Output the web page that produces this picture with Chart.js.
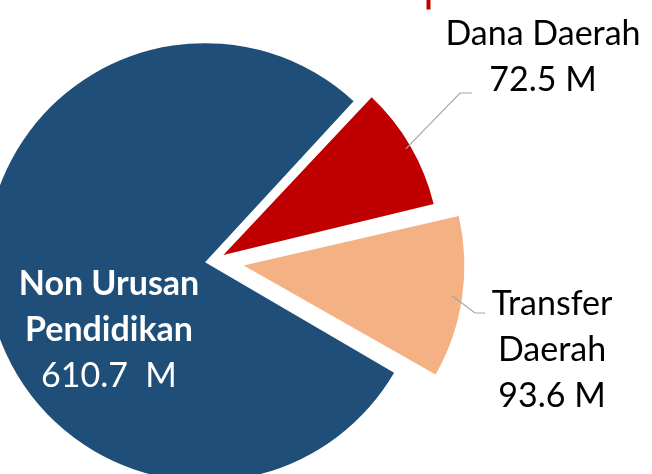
<!DOCTYPE html>
<html>
<head>
<meta charset="utf-8">
<script src="https://cdn.jsdelivr.net/npm/chart.js@4"></script>
<style>
  html, body { margin: 0; padding: 0; background: #fff; overflow: hidden; width: 652px; height: 474px; }
  #wrap { position: absolute; left: 0; top: 0; width: 652px; height: 522px; }
</style>
</head>
<body>
<div id="wrap"><canvas id="pie"></canvas></div>
<script>
const categories = ['Non Urusan Pendidikan', 'Dana Daerah', 'Transfer Daerah']
const values = [610.7, 72.5, 93.6]
const labelLines = [['Non Urusan', 'Pendidikan'], ['Dana Daerah'], ['Transfer', 'Daerah']]
const valueLabels = ['610.7  M', '72.5 M', '93.6 M']
const colors = ['#1F4E79', '#C00000', '#F4B183']

// where each label block sits (center x, first baseline) and its style
const labelPos = [
  { x: 109, y: 295, color: '#fff', boldName: true, line: false },
  { x: 543, y: 45, color: '#000', boldName: false, line: [[472, 93], [460, 93]] },
  { x: 552, y: 315, color: '#000', boldName: false, line: [[485, 313], [475, 313]] }
]

const FONT = 'Lato, "Open Sans", sans-serif'
const LINE_H = 46

const pieLabels = {
  id: 'pieLabels',
  afterDatasetsDraw(chart) {
    const ctx = chart.ctx
    const meta = chart.getDatasetMeta(0)
    ctx.save()

    // small red mark at the top edge
    ctx.fillStyle = '#C00000'
    ctx.fillRect(426.5, 0, 4, 9.5)

    meta.data.forEach((arc, i) => {
      const p = labelPos[i]
      // leader line from the arc mid point
      if (p.line) {
        const mid = (arc.startAngle + arc.endAngle) / 2
        const off = (arc.options.offset || 0) / 4
        const ax = arc.x + Math.cos(mid) * (off + arc.outerRadius)
        const ay = arc.y + Math.sin(mid) * (off + arc.outerRadius)
        ctx.strokeStyle = '#A6A6A6'
        ctx.lineWidth = 1.2
        ctx.beginPath()
        ctx.moveTo(p.line[0][0], p.line[0][1])
        ctx.lineTo(p.line[1][0], p.line[1][1])
        ctx.lineTo(ax, ay)
        ctx.stroke()
      }
      ctx.fillStyle = p.color
      ctx.textAlign = 'center'
      ctx.textBaseline = 'alphabetic'
      const lines = labelLines[i]
      lines.forEach((t, j) => {
        ctx.font = (p.boldName ? 'bold ' : '') + '34px ' + FONT
        ctx.fillText(t, p.x, p.y + j * LINE_H)
      })
      ctx.font = '34px ' + FONT
      ctx.fillText(valueLabels[i], p.x, p.y + lines.length * LINE_H)
    })
    ctx.restore()
  }
}

new Chart(document.getElementById('pie'), {
  type: 'pie',
  data: {
    labels: categories,
    datasets: [{
      data: values,
      backgroundColor: colors,
      borderWidth: 0,
      offset: [32, 48, 124],
      clip: false
    }]
  },
  options: {
    responsive: true,
    maintainAspectRatio: false,
    animation: false,
    rotation: 120,
    radius: 211,
    layout: { padding: { right: 226 } },
    events: [],
    plugins: {
      legend: { display: false },
      tooltip: { enabled: false }
    }
  },
  plugins: [pieLabels]
})
</script>
</body>
</html>
